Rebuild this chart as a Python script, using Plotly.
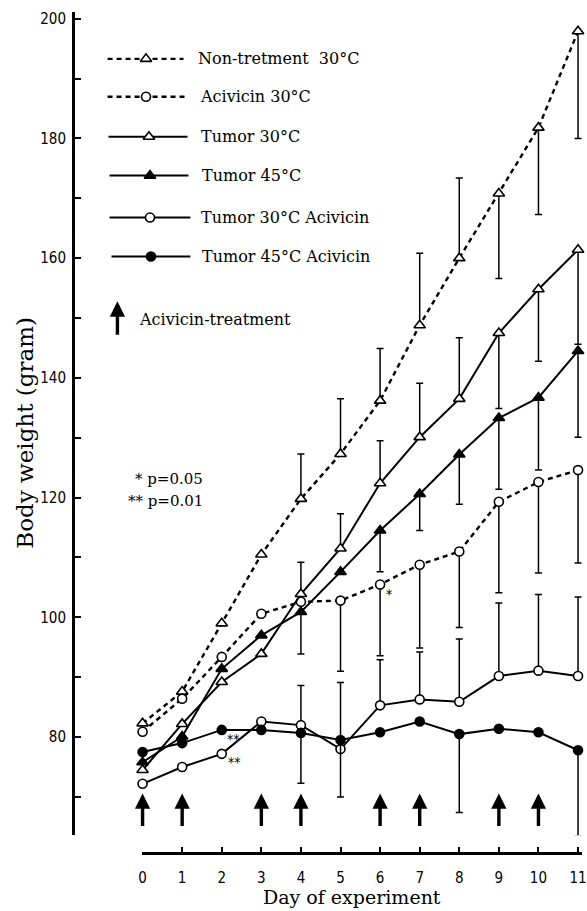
import plotly.graph_objects as go

# ---------------------------------------------------------------- data ----
days = list(range(12))
day_labels = [str(d) for d in days]
weight_ticks = [80, 100, 120, 140, 160, 180, 200]
weight_minor_ticks = [70, 90, 110, 130, 150, 170, 190]
treatment_days = [0, 1, 3, 4, 6, 7, 9, 10]

# mean body weight (gram) per day, with one-sided error bars (up / down)
nontreat_30 = [82.3, 87.6, 99.0, 110.5, 119.8, 127.3, 136.2, 148.8, 160.0, 170.8, 181.8, 197.9]
nontreat_30_up = [0, 0, 0, 0, 7.5, 9.2, 8.7, 12.0, 13.4, 0, 0, 0]
nontreat_30_down = [0, 0, 0, 0, 0, 0, 0, 0, 0, 14.2, 14.5, 17.9]

acivicin_30 = [80.9, 86.4, 93.4, 100.6, 102.6, 102.8, 105.5, 108.8, 111.0, 119.3, 122.6, 124.6]
acivicin_30_up = [0] * 12
acivicin_30_down = [0, 0, 0, 0, 0, 11.8, 11.9, 13.9, 12.7, 15.2, 15.2, 15.5]

tumor_30 = [74.5, 82.2, 89.2, 93.9, 103.9, 111.5, 122.4, 130.1, 136.5, 147.5, 154.8, 161.4]
tumor_30_up = [0, 0, 0, 0, 5.3, 5.8, 7.1, 9.0, 10.2, 0, 0, 0]
tumor_30_down = [0, 0, 0, 0, 0, 0, 0, 0, 0, 12.6, 12.0, 15.8]

tumor_45 = [75.8, 80.1, 91.4, 97.0, 100.9, 107.6, 114.5, 120.6, 127.2, 133.3, 136.7, 144.5]
tumor_45_up = [0] * 12
tumor_45_down = [0, 0, 0, 0, 7.0, 0, 6.9, 6.1, 8.3, 11.9, 12.1, 14.4]

tumor_30_aciv = [72.2, 75.0, 77.2, 82.6, 82.0, 78.0, 85.3, 86.3, 85.9, 90.2, 91.1, 90.2]
tumor_30_aciv_up = [0, 0, 0, 0, 6.6, 11.1, 7.6, 7.9, 10.5, 12.2, 12.7, 13.2]
tumor_30_aciv_down = [0] * 12

tumor_45_aciv = [77.5, 79.0, 81.2, 81.2, 80.7, 79.5, 80.8, 82.6, 80.5, 81.4, 80.8, 77.8]
tumor_45_aciv_up = [0] * 12
tumor_45_aciv_down = [0, 0, 0, 0, 8.4, 9.5, 0, 0, 13.1, 0, 0, 14.3]

# ------------------------------------------------------------- styling ----
W, H = 587, 911
SERIF = "DejaVu Serif, Liberation Serif, serif"
NUM = "Liberation Sans Narrow, DejaVu Sans Condensed, Liberation Sans, sans-serif"

series = [
    # label, values, up, down, dashed, symbol, fill
    ("Non-tretment\u00a0 30°C", nontreat_30, nontreat_30_up, nontreat_30_down, True, "triangle-up", "white"),
    ("Acivicin 30°C", acivicin_30, acivicin_30_up, acivicin_30_down, True, "circle", "white"),
    ("Tumor 30°C", tumor_30, tumor_30_up, tumor_30_down, False, "triangle-up", "white"),
    ("Tumor 45°C", tumor_45, tumor_45_up, tumor_45_down, False, "triangle-up", "black"),
    ("Tumor 30°C Acivicin", tumor_30_aciv, tumor_30_aciv_up, tumor_30_aciv_down, False, "circle", "white"),
    ("Tumor 45°C Acivicin", tumor_45_aciv, tumor_45_aciv_up, tumor_45_aciv_down, False, "circle", "black"),
]


def line_style(dashed):
    if dashed:
        return dict(color="black", width=2.4, dash="5px,4px")
    return dict(color="black", width=2.0)


def marker_style(symbol, fill):
    return dict(symbol=symbol, size=10 if symbol.startswith("triangle") else 9,
                color=fill, line=dict(color="black", width=1.6))


fig = go.Figure()

for label, vals, up, down, dashed, symbol, fill in series:
    fig.add_trace(go.Scatter(
        x=days, y=vals, name=label, mode="lines+markers",
        line=line_style(dashed), marker=marker_style(symbol, fill),
        error_y=dict(type="data", symmetric=False, array=up, arrayminus=down,
                     color="black", thickness=1.5, width=3.5),
        cliponaxis=False, showlegend=False, hoverinfo="skip",
    ))

# hand-drawn style key in the upper-left corner (pixel space overlay)
key_rows = [  # y, line start, marker x, line end, text x
    (57, 106, 145, 183, 196),
    (95, 106, 145, 184, 198),
    (135, 107, 148, 187, 199),
    (174, 108, 149, 188, 200),
    (216, 108, 149, 190, 199),
    (255, 110, 150, 190, 200),
]
annotations = []
for (label, _v, _u, _d, dashed, symbol, fill), (ky, x0, xm, x1, tx) in zip(series, key_rows):
    fig.add_trace(go.Scatter(
        x=[x0, xm, x1], y=[ky, ky, ky], mode="lines", line=line_style(dashed),
        xaxis="x2", yaxis="y2", showlegend=False, hoverinfo="skip",
    ))
    fig.add_trace(go.Scatter(
        x=[xm], y=[ky], mode="markers", marker=marker_style(symbol, fill),
        xaxis="x2", yaxis="y2", showlegend=False, hoverinfo="skip",
    ))
    annotations.append(dict(
        x=tx, y=ky, xref="x2", yref="y2", text=label, showarrow=False,
        xanchor="left", yanchor="middle", font=dict(family=SERIF, size=16, color="black"),
    ))

# treatment arrows under the curves
for d in treatment_days:
    annotations.append(dict(
        x=d, y=70.6, xref="x", yref="y", ax=0, ay=34, text="", showarrow=True,
        arrowhead=2, arrowsize=0.9, arrowwidth=3.4, arrowcolor="black",
    ))

# arrow key
annotations.append(dict(
    x=116, y=300, xref="x2", yref="y2", ax=0, ay=35, text="", showarrow=True,
    arrowhead=2, arrowsize=0.9, arrowwidth=3.4, arrowcolor="black",
))
annotations.append(dict(
    x=136, y=318, xref="x2", yref="y2", text="Acivicin-treatment", showarrow=False,
    xanchor="left", yanchor="middle", font=dict(family=SERIF, size=16, color="black"),
))

# significance key
annotations.append(dict(
    x=205, y=478, xref="x2", yref="y2", text="* p=0.05", showarrow=False,
    xanchor="right", yanchor="middle", font=dict(family=SERIF, size=15, color="black"),
))
annotations.append(dict(
    x=205, y=500, xref="x2", yref="y2", text="** p=0.01", showarrow=False,
    xanchor="right", yanchor="middle", font=dict(family=SERIF, size=15, color="black"),
))

# significance marks next to points
for xi, yi, txt, dx, dy in [
    (2, tumor_45_aciv[2], "**", 12, -9),
    (2, tumor_30_aciv[2], "**", 13, -8),
    (6, acivicin_30[6], "*", 9, -10),
]:
    annotations.append(dict(
        x=xi, y=yi, xref="x", yref="y", text=txt, showarrow=False,
        xshift=dx, yshift=dy, font=dict(family=NUM, size=14, color="black"),
    ))

# axis titles
annotations.append(dict(
    x=354, y=897, xref="x2", yref="y2", text="Day of experiment", showarrow=False,
    font=dict(family=SERIF, size=19, color="black"),
))
annotations.append(dict(
    x=22, y=432, xref="x2", yref="y2", text="Body weight (gram)", showarrow=False,
    textangle=-90, font=dict(family=SERIF, size=23, color="black"),
))

fig.update_layout(
    width=W, height=H, margin=dict(l=0, r=0, t=0, b=0),
    paper_bgcolor="white", plot_bgcolor="rgba(0,0,0,0)",
    showlegend=False,
    xaxis=dict(
        domain=[140.7 / W, 1], range=[-0.02, 11.1], anchor="free", position=1 - 853 / H,
        showline=True, linewidth=3, linecolor="black",
        ticks="inside", ticklen=5, tickwidth=1.5, tickcolor="black",
        tickvals=days, ticktext=day_labels, ticklabelstandoff=10,
        ticklabeloverflow="allow",
        tickfont=dict(family=NUM, size=15, color="black"),
        showgrid=False, zeroline=False,
    ),
    yaxis=dict(
        domain=[1 - 835 / H, 1 - 10 / H], range=[63.62, 201.12], anchor="free", position=71 / W,
        showline=True, linewidth=3, linecolor="black",
        ticks="inside", ticklen=6, tickwidth=1.5, tickcolor="black",
        tickvals=weight_ticks, ticklabelstandoff=3,
        tickfont=dict(family=NUM, size=15, color="black"),
        minor=dict(tickvals=weight_minor_ticks, ticks="inside", ticklen=6, tickwidth=1.5,
                   tickcolor="black"),
        showgrid=False, zeroline=False,
    ),
    xaxis2=dict(domain=[0, 1], range=[0, W], anchor="y2", visible=False, fixedrange=True),
    yaxis2=dict(domain=[0, 1], range=[H, 0], anchor="x2", visible=False, fixedrange=True),
    annotations=annotations,
)

fig.write_html("out.html")
